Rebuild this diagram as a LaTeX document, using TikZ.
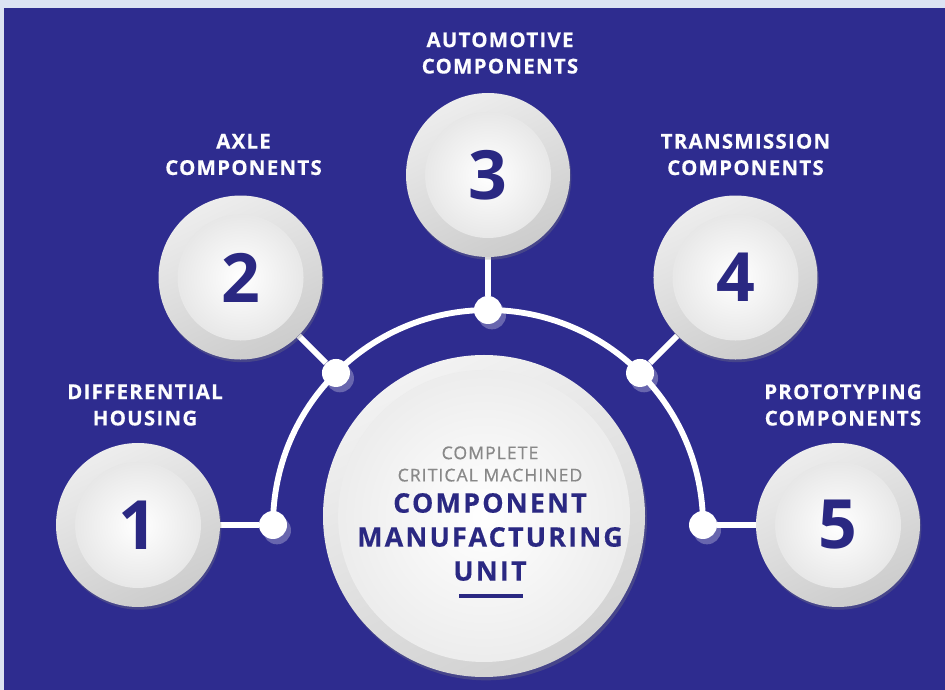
\documentclass[tikz,border=0pt]{standalone}
\usepackage{fontspec}
\setmainfont{Open Sans}
\usetikzlibrary{positioning,shadows,backgrounds}
\definecolor{indigo}{HTML}{2E2C8F}
\definecolor{deepnavy}{HTML}{2A2882}
\definecolor{haze}{HTML}{DCE3F3}
\definecolor{ashgrey}{HTML}{888888}
\pgfdeclarelayer{canvas}
\pgfsetlayers{canvas,background,main}
\tikzset{
  ring/.style={circle,minimum size=49.2mm,inner sep=0pt,top color=white!93!black,bottom color=white!80!black,shading angle=25,
    drop shadow={opacity=.3,shadow xshift=.4mm,shadow yshift=-.8mm},
    path picture={\shade[inner color=white,outer color=white!88!black] (path picture bounding box.center) circle (18.9mm);},
    font=\fontsize{58}{60}\selectfont\bfseries,text=deepnavy},
  hub/.style={circle,minimum size=96.6mm,inner sep=0pt,top color=white!95!black,bottom color=white!82!black,shading angle=25,
    drop shadow={opacity=.3,shadow xshift=.6mm,shadow yshift=-1mm},
    path picture={\shade[inner color=white,outer color=white!92!black] (path picture bounding box.center) circle (43.8mm);}},
  dot/.style={circle,fill=white,minimum size=8.4mm,inner sep=0pt,
    drop shadow={fill=white,opacity=.28,shadow xshift=1.2mm,shadow yshift=-1.6mm}},
  rail/.style={draw=white,line width=5pt},
  caption/.style={font=\fontsize{17.5}{22.5}\selectfont\bfseries\addfontfeature{LetterSpace=6,FakeBold=0.4},text=white!94!haze,align=center},
  hubsub/.style={font=\fontsize{15}{19}\selectfont\addfontfeature{LetterSpace=6,FakeBold=0.7},text=ashgrey,align=center},
  hubtitle/.style={font=\fontsize{23}{29}\selectfont\bfseries\addfontfeature{LetterSpace=8,FakeBold=0.3},text=deepnavy,align=center},
}

\begin{document}
\begin{tikzpicture}[x=0.3mm,y=0.3mm]
  \begin{pgfonlayer}{canvas}
    \fill[haze] (0,0) rectangle (945,690);
    \fill[indigo] (4,0) rectangle (945,682);
  \end{pgfonlayer}
  \useasboundingbox (0,0) rectangle (945,690);
  \coordinate (c) at (488,165);
  % central unit
  \node[hub] (hub) at (484,174) {};
  \node[hubsub] (sub) at (490,226) {COMPLETE\\CRITICAL MACHINED};
  \node[hubtitle] (title) at (490,153) {COMPONENT\\MANUFACTURING\\UNIT};
  \draw[deepnavy,line width=2.6pt] (459,94) -- (523,94);
  % dots on the rail and the numbered rings
  \foreach \a/\k in {180/1,135/2,90/3,45/4,0/5}{
    \node[dot] (d\k) at ([shift={(\a:215)}]c) {};
    \node[ring] (n\k) at ([shift={(\a:350)}]c) {\k};
  }
  \node[caption] (t1) at ([shift={(7,120)}]n1) {DIFFERENTIAL\\HOUSING};
  \node[caption] (t2) at ([shift={(3,123)}]n2) {AXLE\\COMPONENTS};
  \node[caption] (t3) at ([shift={(12,122)}]n3) {AUTOMOTIVE\\COMPONENTS};
  \node[caption] (t4) at ([shift={(10,123)}]n4) {TRANSMISSION\\COMPONENTS};
  \node[caption] (t5) at ([shift={(5,120)}]n5) {PROTOTYPING\\COMPONENTS};
  \begin{scope}[on background layer]
    \draw[rail] (d1.center) arc[start angle=180,end angle=0,radius=215];
    \foreach \k in {1,...,5} \draw[rail] (d\k) -- (n\k);
  \end{scope}
\end{tikzpicture}
\end{document}
